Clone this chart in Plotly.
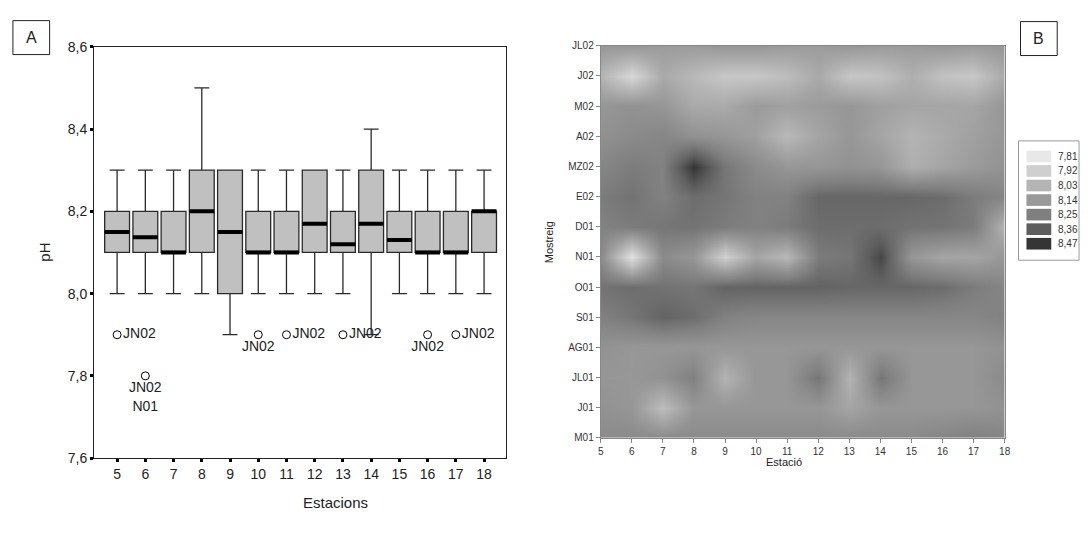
import plotly.graph_objects as go

# ---------------- Panel A: pH box plots per station ----------------
stations = [5, 6, 7, 8, 9, 10, 11, 12, 13, 14, 15, 16, 17, 18]
q1 = [8.1, 8.1, 8.1, 8.1, 8.0, 8.1, 8.1, 8.1, 8.1, 8.1, 8.1, 8.1, 8.1, 8.1]
median = [8.15, 8.137, 8.1, 8.2, 8.15, 8.1, 8.1, 8.17, 8.12, 8.17, 8.13, 8.1, 8.1, 8.2]
q3 = [8.2, 8.2, 8.2, 8.3, 8.3, 8.2, 8.2, 8.3, 8.2, 8.3, 8.2, 8.2, 8.2, 8.2]
lower_fence = [8.0, 8.0, 8.0, 8.0, 7.9, 8.0, 8.0, 8.0, 8.0, 7.9, 8.0, 8.0, 8.0, 8.0]
upper_fence = [8.3, 8.3, 8.3, 8.5, 8.3, 8.3, 8.3, 8.3, 8.3, 8.4, 8.3, 8.3, 8.3, 8.3]

outlier_station = [5, 6, 10, 11, 13, 16, 17]
outlier_value = [7.9, 7.8, 7.9, 7.9, 7.9, 7.9, 7.9]
outlier_label = ["JN02", "JN02<br>N01", "JN02", "JN02", "JN02", "JN02", "JN02"]
outlier_textpos = ["middle right", "bottom center", "bottom center", "middle right",
                   "middle right", "bottom center", "middle right"]

ph_ticks = [7.6, 7.8, 8.0, 8.2, 8.4, 8.6]

# ---------------- Panel B: pH by station and sampling month ----------------
months = ["M01", "J01", "JL01", "AG01", "S01", "O01", "N01",
          "D01", "E02", "MZ02", "A02", "M02", "J02", "JL02"]
ph_grid = [
    [8.20, 8.20, 8.20, 8.20, 8.20, 8.20, 8.20, 8.20, 8.20, 8.20, 8.20, 8.22, 8.24, 8.22],  # M01
    [8.17, 8.15, 7.99, 8.15, 8.15, 8.15, 8.15, 8.15, 8.09, 8.15, 8.15, 8.15, 8.15, 8.17],  # J01
    [8.15, 8.15, 8.17, 8.24, 8.03, 8.15, 8.15, 8.28, 8.03, 8.28, 8.15, 8.15, 8.15, 8.20],  # JL01
    [8.17, 8.15, 8.15, 8.15, 8.15, 8.15, 8.15, 8.15, 8.15, 8.15, 8.15, 8.15, 8.15, 8.17],  # AG01
    [8.24, 8.28, 8.34, 8.31, 8.24, 8.22, 8.22, 8.22, 8.22, 8.22, 8.22, 8.22, 8.22, 8.24],  # S01
    [8.29, 8.31, 8.29, 8.28, 8.34, 8.34, 8.34, 8.34, 8.33, 8.33, 8.33, 8.31, 8.26, 8.22],  # O01
    [8.20, 7.84, 8.20, 8.15, 7.91, 8.09, 8.01, 8.26, 8.28, 8.42, 8.15, 8.09, 8.09, 8.15],  # N01
    [8.24, 8.26, 8.28, 8.29, 8.26, 8.24, 8.26, 8.31, 8.31, 8.31, 8.29, 8.29, 8.26, 8.03],  # D01
    [8.26, 8.29, 8.24, 8.31, 8.28, 8.24, 8.24, 8.33, 8.33, 8.33, 8.33, 8.31, 8.26, 8.22],  # E02
    [8.22, 8.26, 8.24, 8.47, 8.28, 8.20, 8.15, 8.15, 8.17, 8.15, 8.05, 8.09, 8.13, 8.17],  # MZ02
    [8.17, 8.20, 8.22, 8.17, 8.15, 8.11, 8.01, 8.09, 8.15, 8.09, 8.03, 8.07, 8.11, 8.15],  # A02
    [8.15, 8.17, 8.15, 8.07, 8.07, 8.13, 8.11, 8.13, 8.15, 8.11, 8.09, 8.09, 8.09, 8.15],  # M02
    [8.03, 7.88, 8.07, 8.01, 7.95, 7.95, 7.99, 8.07, 7.95, 7.97, 8.05, 7.97, 7.95, 8.07],  # J02
    [8.15, 8.15, 8.13, 8.13, 8.15, 8.15, 8.13, 8.13, 8.15, 8.13, 8.13, 8.15, 8.13, 8.15],  # JL02
]
legend_levels = [7.81, 7.92, 8.03, 8.14, 8.25, 8.36, 8.47]
legend_greys = [232, 207, 180, 153, 127, 94, 53]

W, H = 1088, 535
FONT = "Liberation Sans, Arial, sans-serif"


def px(x):
    return x / W


def py(y):
    return 1 - y / H


def grey(g):
    return f"rgb({g},{g},{g})"


fig = go.Figure()

# Boxes from precomputed statistics
BOX_W = 0.88
fig.add_trace(go.Box(
    x=stations, q1=q1, median=median, q3=q3,
    lowerfence=lower_fence, upperfence=upper_fence,
    width=BOX_W, whiskerwidth=0.6, boxpoints=False,
    fillcolor="#c0c0c0", line=dict(color="#2a2a2a", width=1.3),
    hoverinfo="skip", showlegend=False, xaxis="x", yaxis="y",
))

# Thick median bars
mx, my = [], []
for s, m in zip(stations, median):
    mx += [s - BOX_W / 2, s + BOX_W / 2, None]
    my += [m, m, None]
fig.add_trace(go.Scatter(
    x=mx, y=my, mode="lines", line=dict(color="black", width=4),
    hoverinfo="skip", showlegend=False, xaxis="x", yaxis="y",
))

# Outliers with their sample labels
fig.add_trace(go.Scatter(
    x=outlier_station, y=outlier_value, mode="markers+text",
    marker=dict(symbol="circle-open", size=8, color="black", line=dict(width=1)),
    text=outlier_label, textposition=outlier_textpos,
    textfont=dict(family=FONT, size=14, color="#222"),
    hoverinfo="skip", showlegend=False, xaxis="x", yaxis="y",
))

# Heat map of pH
zmin, zmax = legend_levels[0], legend_levels[-1]
colorscale = [[(v - zmin) / (zmax - zmin), grey(g)] for v, g in zip(legend_levels, legend_greys)]
fig.add_trace(go.Heatmap(
    x=stations, y=list(range(len(months))), z=ph_grid,
    zmin=zmin, zmax=zmax, colorscale=colorscale, zsmooth="best",
    showscale=False, hoverinfo="skip", xaxis="x2", yaxis="y2",
))

shapes = []
annotations = []

# Legend for the heat map
shapes.append(dict(type="rect", xref="paper", yref="paper",
                   x0=px(1024), x1=px(1085), y0=py(137), y1=py(260),
                   line=dict(color="#9a9a9a", width=1), fillcolor="white"))
for i, (v, g) in enumerate(zip(legend_levels, legend_greys)):
    cy = 153 + i * 15
    shapes.append(dict(type="rect", xref="paper", yref="paper",
                       x0=px(1032), x1=px(1057), y0=py(cy - 6), y1=py(cy + 6),
                       line=dict(width=0), fillcolor=grey(g)))
    annotations.append(dict(xref="paper", yref="paper", x=px(1062), y=py(cy),
                            text=f"{v:.2f}".replace(".", ","), showarrow=False,
                            xanchor="left", yanchor="middle",
                            font=dict(family=FONT, size=10, color="#333")))

# Panel letters
for letter, (x0, y0, x1, y1) in (("A", (10, 13, 47, 48)), ("B", (1026, 14, 1063, 49))):
    shapes.append(dict(type="rect", xref="paper", yref="paper",
                       x0=px(x0), x1=px(x1), y0=py(y0), y1=py(y1),
                       line=dict(color="#222", width=1)))
    annotations.append(dict(xref="paper", yref="paper", x=px((x0 + x1) / 2), y=py((y0 + y1) / 2),
                            text=letter, showarrow=False, xanchor="center", yanchor="middle",
                            font=dict(family=FONT, size=16, color="#222")))

# Axis titles
annotations += [
    dict(xref="paper", yref="paper", x=px(31), y=py(252), text="pH", textangle=-90,
         showarrow=False, font=dict(family=FONT, size=15, color="#222")),
    dict(xref="paper", yref="paper", x=px(300), y=py(521), text="Estacions",
         showarrow=False, font=dict(family=FONT, size=15, color="#222")),
    dict(xref="paper", yref="paper", x=px(550), y=py(241), text="Mostreig", textangle=-90,
         showarrow=False, font=dict(family=FONT, size=11, color="#222")),
    dict(xref="paper", yref="paper", x=px(808), y=py(476), text="Estació",
         showarrow=False, font=dict(family=FONT, size=11, color="#222")),
]

fig.update_layout(
    width=W, height=H, margin=dict(l=0, r=0, t=0, b=0),
    paper_bgcolor="white", plot_bgcolor="white", showlegend=False,
    font=dict(family=FONT, color="#222"),
    xaxis=dict(domain=[px(92), px(507)], range=[4.19, 18.77], anchor="y",
               tickmode="array", tickvals=stations, ticks="outside", ticklen=3,
               tickwidth=3, tickcolor="black", showline=True, linecolor="#222",
               linewidth=1.3, mirror=True, showgrid=False, zeroline=False,
               tickfont=dict(size=14, color="#222")),
    yaxis=dict(domain=[py(464), py(40)], range=[7.6, 8.6], anchor="x",
               tickmode="array", tickvals=ph_ticks,
               ticktext=[f"{t:.1f}".replace(".", ",") for t in ph_ticks],
               ticks="outside", ticklen=3, tickwidth=3, tickcolor="black",
               showline=True, linecolor="#222", linewidth=1.3, mirror=True,
               showgrid=False, zeroline=False, tickfont=dict(size=14, color="#222")),
    xaxis2=dict(domain=[px(602.7), px(1010)], range=[5, 18], anchor="y2",
                tickmode="array", tickvals=stations, ticks="outside", ticklen=4,
                tickcolor="#888", showline=True, linecolor="#888", linewidth=1,
                mirror=True, showgrid=False, zeroline=False,
                tickfont=dict(size=10, color="#333")),
    yaxis2=dict(domain=[py(443), py(39)], range=[0, 13], anchor="x2",
                tickmode="array", tickvals=list(range(len(months))), ticktext=months,
                ticks="outside", ticklen=4, tickcolor="#888", showline=True,
                linecolor="#888", linewidth=1, mirror=True, showgrid=False,
                zeroline=False, tickfont=dict(size=10, color="#333")),
    shapes=shapes, annotations=annotations,
)

fig.write_html("out.html")
